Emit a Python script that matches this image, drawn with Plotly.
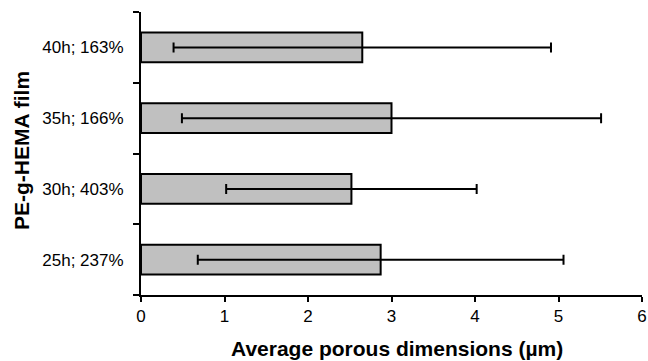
import plotly.graph_objects as go

categories = ["25h; 237%", "30h; 403%", "35h; 166%", "40h; 163%"]
means = [2.87, 2.52, 3.00, 2.65]
errors = [2.19, 1.50, 2.51, 2.26]
x_ticks = [0, 1, 2, 3, 4, 5, 6]

W, H = 648, 361
L, T = 141, 12
pw, ph = 501, 283
R = W - L - pw
B = H - T - ph

fig = go.Figure()
fig.add_trace(go.Bar(
    y=categories, x=means, orientation="h",
    marker=dict(color="#C0C0C0", line=dict(color="black", width=2)),
    width=0.42,
    error_x=dict(type="data", array=errors, visible=True, color="black", thickness=2, width=5),
))

fig.update_layout(
    width=W, height=H,
    margin=dict(l=L, r=R, t=T, b=B, autoexpand=False),
    plot_bgcolor="white", paper_bgcolor="white",
    showlegend=False,
    font=dict(family="Liberation Sans, Arial, sans-serif", color="black", size=17),
    annotations=[
        dict(text="<b>Average porous dimensions (µm)</b>", xref="paper", yref="paper",
             x=(397 - L) / pw, y=-(348 - (T + ph)) / ph, xanchor="center", yanchor="middle",
             showarrow=False, font=dict(size=21)),
        dict(text="<b>PE-g-HEMA film</b>", xref="paper", yref="paper", textangle=-90,
             x=(21 - L) / pw, y=(T + ph - 151) / ph, xanchor="center", yanchor="middle",
             showarrow=False, font=dict(size=21)),
    ],
)
fig.update_xaxes(
    range=[0, 6], tickvals=x_ticks, ticktext=[str(t) for t in x_ticks],
    showline=True, linecolor="black", linewidth=2,
    ticks="outside", ticklen=5, tickwidth=2, tickcolor="black",
    showgrid=False, zeroline=False, automargin=False,
    tickfont=dict(size=17),
)
fig.update_yaxes(
    type="category", categoryorder="array", categoryarray=categories,
    showline=True, linecolor="black", linewidth=2,
    ticks="outside", ticklen=6, tickwidth=2, tickcolor="black", tickson="boundaries",
    showgrid=False, zeroline=False, automargin=False,
    tickfont=dict(size=17), ticklabelstandoff=12,
)

fig.write_html(
    "out.html",
    config={"displayModeBar": False},
    post_script="document.body.style.margin='0';document.body.style.overflow='hidden';",
)
